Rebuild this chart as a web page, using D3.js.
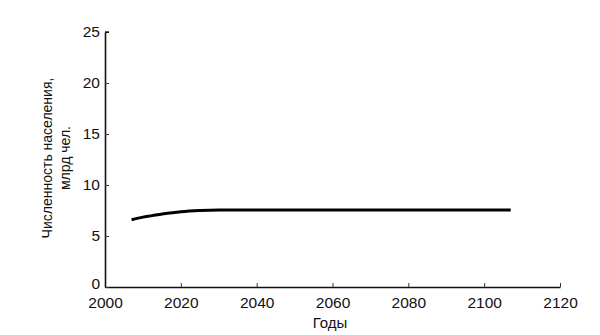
<!DOCTYPE html>
<html>
<head>
<meta charset="utf-8">
<script src="https://cdn.jsdelivr.net/npm/d3@7"></script>
<style>
  body { margin: 0; background: #fff; }
  text { font-family: "Liberation Sans", Arial, sans-serif; fill: #111; }
</style>
</head>
<body>
<div id="chart"></div>
<script>
// data
var years = [2007, 2010, 2015, 2020, 2025, 2030, 2040, 2050, 2060, 2070, 2080, 2090, 2100, 2107];
var population = [6.6, 6.85, 7.15, 7.38, 7.5, 7.55, 7.55, 7.55, 7.55, 7.55, 7.55, 7.55, 7.55, 7.55];
var xTicks = [2000, 2020, 2040, 2060, 2080, 2100, 2120];
var yTicks = [0, 5, 10, 15, 20, 25];

var svgWidth = 600;
var svgHeight = 335;

var margin = { top: 32, right: 40, bottom: 48, left: 105 };
var width = 560 - margin.left;
var height = 287 - margin.top;

var svg = d3.select("#chart")
  .append("svg")
  .attr("width", svgWidth)
  .attr("height", svgHeight);

var chartGroup = svg.append("g")
  .attr("transform", `translate(${margin.left}, ${margin.top})`);

var xScale = d3.scaleLinear().domain([2000, 2120]).range([0, width]);
var yScale = d3.scaleLinear().domain([0, 25]).range([height, 0]);

// axes with inside ticks
var xAxis = chartGroup.append("g")
  .attr("transform", `translate(0, ${height})`)
  .call(d3.axisBottom(xScale).tickValues(xTicks).tickFormat(d3.format("d"))
    .tickSizeInner(-4).tickSizeOuter(0).tickPadding(10));

var yAxis = chartGroup.append("g")
  .call(d3.axisLeft(yScale).tickValues(yTicks)
    .tickSizeInner(-4).tickSizeOuter(0).tickPadding(5));

chartGroup.selectAll(".domain").attr("stroke", "#111").attr("stroke-width", 1.6);
chartGroup.selectAll(".tick line").attr("stroke", "#333");
chartGroup.selectAll(".tick text").style("font-size", "15.5px").attr("fill", "#111");

// the "0" label sits just above the "2000" label
yAxis.selectAll(".tick text").filter(d => d === 0).attr("y", -3);

// small cap at the top of the y axis
chartGroup.append("line")
  .attr("x1", 0).attr("x2", 4)
  .attr("y1", yScale(25)).attr("y2", yScale(25))
  .attr("stroke", "#111").attr("stroke-width", 1.4);

// population line
var line = d3.line()
  .x((d, i) => xScale(years[i]))
  .y(d => yScale(d))
  .curve(d3.curveMonotoneX);

chartGroup.append("path")
  .datum(population)
  .attr("fill", "none")
  .attr("stroke", "#000")
  .attr("stroke-width", 3)
  .attr("d", line);

// axis labels
svg.append("text")
  .attr("x", 330)
  .attr("y", 328)
  .attr("text-anchor", "middle")
  .style("font-size", "15px")
  .text("Годы");

var yLabel = svg.append("text")
  .attr("transform", "translate(52, 158) rotate(-90)")
  .attr("text-anchor", "middle")
  .style("font-size", "14px");

yLabel.append("tspan").attr("x", 0).attr("dy", 0).text("Численность населения,");
yLabel.append("tspan").attr("x", 0).attr("dy", 18).text("млрд чел.");
</script>
</body>
</html>
